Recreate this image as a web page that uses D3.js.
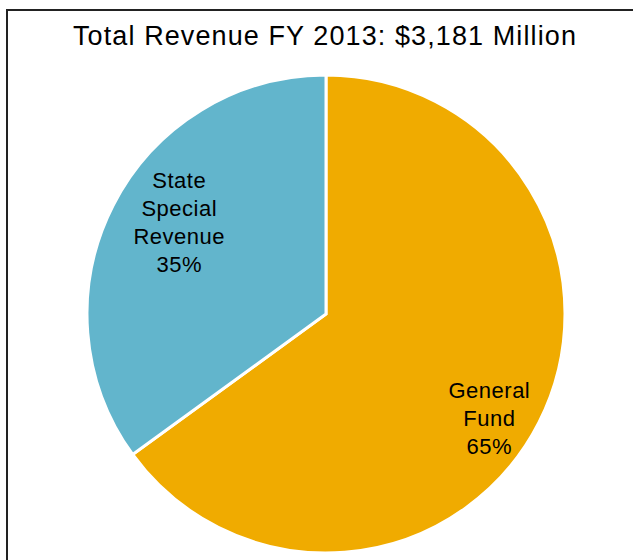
<!DOCTYPE html>
<html>
<head>
<meta charset="utf-8">
<script src="https://cdn.jsdelivr.net/npm/d3@7"></script>
<style>
  html, body { margin: 0; padding: 0; background: #fff; }
  svg { display: block; }
  text { font-family: "Liberation Sans", Arial, sans-serif; fill: #000; }
</style>
</head>
<body>
<svg id="chart" width="633" height="560"></svg>
<script>
// Revenue sources, FY 2013 (share of total, percent)
const categories = ["General Fund", "State Special Revenue"];
const shares = [65, 35];
const labelLines = [["General", "Fund", "65%"], ["State", "Special", "Revenue", "35%"]];
const colors = ["#F0AB00", "#62B5CC"];
const title = "Total Revenue FY 2013: $3,181 Million";

const width = 633, height = 560;
const cx = 326, cy = 314, radius = 239;

const svg = d3.select("#chart");

// frame around the chart area
svg.append("rect")
  .attr("x", 7).attr("y", 10)
  .attr("width", 640).attr("height", 570)
  .attr("fill", "none")
  .attr("stroke", "#222")
  .attr("stroke-width", 2);

svg.append("text")
  .attr("x", 325).attr("y", 45)
  .attr("text-anchor", "middle")
  .style("font-size", "27px")
  .style("letter-spacing", "1.1px")
  .text(title);

const pie = d3.pie().sort(null).value(d => d)
  .startAngle(0).endAngle(2 * Math.PI);
const arcs = pie(shares);

const arc = d3.arc().innerRadius(0).outerRadius(radius);

const g = svg.append("g").attr("transform", `translate(${cx},${cy})`);

g.selectAll("path.slice")
  .data(arcs)
  .join("path")
  .attr("class", "slice")
  .attr("d", arc)
  .attr("fill", (d, i) => colors[i])
  .attr("stroke", "#fff")
  .attr("stroke-width", 3)
  .attr("stroke-linejoin", "miter");

// label anchors placed along each slice's mid-angle
const labelRadius = [0.81, 0.73];
const angleShift = [0.095, 0.1];
const baselineShift = [8, 10.5];
const lineHeight = 27.8;

arcs.forEach((d, i) => {
  const a = (d.startAngle + d.endAngle) / 2 + angleShift[i];
  const r = radius * labelRadius[i];
  const x = r * Math.sin(a), y = -r * Math.cos(a);
  const lines = labelLines[i];
  const t = g.append("text")
    .attr("text-anchor", "middle")
    .style("font-size", "22px")
    .style("letter-spacing", "0.5px");
  lines.forEach((ln, k) => {
    t.append("tspan")
      .attr("x", x)
      .attr("y", y + (k - (lines.length - 1) / 2) * lineHeight + baselineShift[i])
      .text(ln);
  });
});
</script>
</body>
</html>
